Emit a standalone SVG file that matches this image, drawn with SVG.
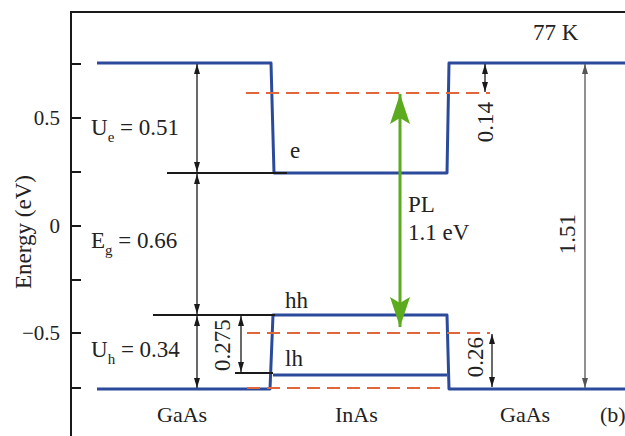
<svg xmlns="http://www.w3.org/2000/svg" width="625" height="436" viewBox="0 0 625 436">
<style>
text{font-family:"Liberation Serif","Times New Roman",serif;font-size:23px;fill:#222}
.tick{font-size:21px}
.mat{font-size:22px}
.band{fill:none;stroke:#2b4a9c;stroke-width:3;stroke-linejoin:round}
.lvl{stroke:#1a1a1a;stroke-width:2}
.dash{stroke:#e0663c;stroke-width:2;stroke-dasharray:13 7}
.arr{stroke:#1a1a1a;stroke-width:1.3;fill:none;marker-start:url(#ah);marker-end:url(#ah)}
.gray{stroke:#555;stroke-width:1.3;fill:none;marker-start:url(#ahg);marker-end:url(#ahg)}
.rot{text-anchor:middle;dominant-baseline:central}
</style>
<defs>
<marker id="ah" viewBox="0 0 10 6" refX="10" refY="3" markerWidth="10" markerHeight="6" markerUnits="userSpaceOnUse" orient="auto-start-reverse"><path d="M0,0 L10,3 L0,6 Z" fill="#1a1a1a"/></marker>
<marker id="ahg" viewBox="0 0 10 6" refX="10" refY="3" markerWidth="10" markerHeight="6" markerUnits="userSpaceOnUse" orient="auto-start-reverse"><path d="M0,0 L10,3 L0,6 Z" fill="#555"/></marker>
<marker id="gh" viewBox="0 0 30 20" refX="30" refY="10" markerWidth="30" markerHeight="20" markerUnits="userSpaceOnUse" orient="auto-start-reverse"><path d="M0,0 L30,10 L0,20 L6,10 Z" fill="#5cab1f"/></marker>
</defs>
<rect width="625" height="436" fill="#fff"/>
<g id="axes">
<path d="M71,436 V12 H625" fill="none" stroke="#1a1a1a" stroke-width="2"/>
<path d="M71,64 H81 M71,118 H81 M71,172 H81 M71,226 H81 M71,280 H81 M71,333 H81 M71,388 H81" stroke="#1a1a1a" stroke-width="2"/>
<text class="tick" x="60" y="125" text-anchor="end">0.5</text>
<text class="tick" x="60" y="233" text-anchor="end">0</text>
<text class="tick" x="60" y="340" text-anchor="end">−0.5</text>
<text class="rot" font-size="25" transform="translate(23,232) rotate(-90)">Energy (eV)</text>
</g>
<g id="bands">
<path class="band" d="M97,63 H271 L274,173 H447 L449,63 H625"/>
<path class="band" d="M97,389 H270 L273,315 H447 L449,389 H625"/>
<path class="band" d="M273,375 H447"/>
</g>
<g id="levels">
<path class="lvl" d="M167,173 H287"/>
<path class="lvl" d="M153,315 H275"/>
<path class="lvl" d="M235,373 H273"/>
<path class="dash" d="M246,93 H490"/>
<path class="dash" d="M247,333 H490"/>
<path class="dash" d="M247,388 H447"/>
</g>
<g id="connectors">
<path class="arr" d="M197,64 V172"/>
<path class="arr" d="M197,174 V314"/>
<path class="arr" d="M197,316 V388"/>
<path class="arr" d="M241,316 V372"/>
<path class="arr" d="M485,64 V92"/>
<path class="arr" d="M492,334 V387"/>
<path class="gray" d="M585,64 V388"/>
<path d="M400,94 V327" stroke="#5cab1f" stroke-width="3" fill="none" marker-start="url(#gh)" marker-end="url(#gh)"/>
</g>
<g id="labels">
<text x="91" y="135">U<tspan font-size="15" dy="7">e</tspan><tspan dy="-7"> = 0.51</tspan></text>
<text x="91" y="248">E<tspan font-size="15" dy="7">g</tspan><tspan dy="-7"> = 0.66</tspan></text>
<text x="91" y="357">U<tspan font-size="15" dy="7">h</tspan><tspan dy="-7"> = 0.34</tspan></text>
<text x="290" y="158">e</text>
<text x="285" y="308">hh</text>
<text x="285" y="366">lh</text>
<text x="408" y="212">PL</text>
<text x="408" y="240">1.1 eV</text>
<text x="533" y="40" font-size="24">77 K</text>
<text class="rot" font-size="22" transform="translate(222,345) rotate(-90)">0.275</text>
<text class="rot" font-size="22" transform="translate(485,122) rotate(-90)">0.14</text>
<text class="rot" font-size="22" transform="translate(475,357) rotate(-90)">0.26</text>
<text class="rot" font-size="22" transform="translate(567,234) rotate(-90)">1.51</text>
<text class="mat" x="157" y="422">GaAs</text>
<text class="mat" x="335" y="422">InAs</text>
<text class="mat" x="500" y="422">GaAs</text>
<text class="mat" x="600" y="422">(b)</text>
</g>
</svg>
